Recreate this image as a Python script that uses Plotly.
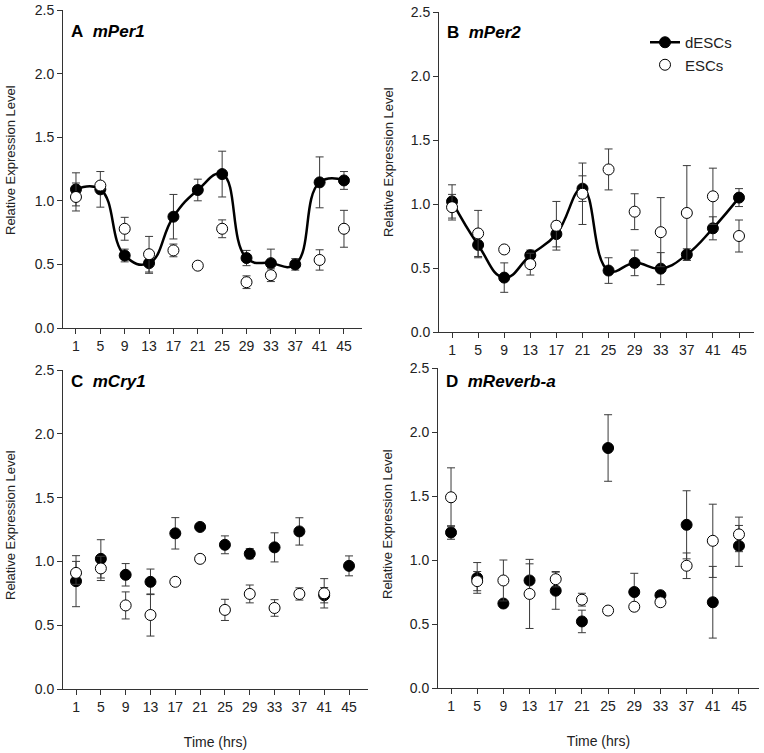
import plotly.graph_objects as go

# ---------------- data ----------------
time_hrs = [1, 5, 9, 13, 17, 21, 25, 29, 33, 37, 41, 45]
y_ticks = [0.0, 0.5, 1.0, 1.5, 2.0, 2.5]

# Panel A: mPer1
per1_desc = [1.09, 1.09, 0.57, 0.51, 0.875, 1.085, 1.21, 0.55, 0.51, 0.50, 1.145, 1.16]
per1_desc_err = [0.13, 0.14, 0.05, 0.08, 0.175, 0.085, 0.18, 0.06, 0.11, 0.045, 0.20, 0.07]
per1_esc = [1.03, 1.12, 0.78, 0.58, 0.61, 0.49, 0.78, 0.36, 0.415, None, 0.535, 0.78]
per1_esc_err = [0.11, 0.03, 0.09, 0.14, 0.05, 0.0, 0.07, 0.05, 0.05, 0.0, 0.08, 0.145]

# Panel B: mPer2
per2_desc = [1.02, 0.68, 0.425, 0.60, 0.765, 1.12, 0.48, 0.54, 0.495, 0.605, 0.81, 1.05]
per2_desc_err = [0.13, 0.10, 0.115, 0.04, 0.10, 0.10, 0.10, 0.10, 0.125, 0.045, 0.09, 0.07]
per2_esc = [0.975, 0.77, 0.645, 0.53, 0.83, 1.08, 1.27, 0.94, 0.78, 0.93, 1.06, 0.75]
per2_esc_err = [0.10, 0.18, 0.0, 0.085, 0.19, 0.24, 0.16, 0.14, 0.27, 0.37, 0.22, 0.125]

# Panel C: mCry1
cry1_desc = [0.845, 1.02, 0.895, 0.84, 1.22, 1.27, 1.13, 1.06, 1.11, 1.235, 0.735, 0.965]
cry1_desc_err = [0.20, 0.15, 0.088, 0.10, 0.123, 0.0, 0.07, 0.04, 0.114, 0.107, 0.06, 0.078]
cry1_esc = [0.91, 0.945, 0.655, 0.58, 0.84, 1.02, 0.62, 0.745, 0.635, 0.745, 0.75, None]
cry1_esc_err = [0.09, 0.095, 0.106, 0.165, 0.0, 0.0, 0.083, 0.07, 0.065, 0.048, 0.115, 0.0]

# Panel D: mReverb-a
rev_desc = [1.215, 0.86, 0.66, 0.84, 0.76, 0.52, 1.875, 0.75, 0.725, 1.275, 0.67, 1.11]
rev_desc_err = [0.053, 0.12, 0.0, 0.13, 0.145, 0.088, 0.26, 0.146, 0.0, 0.266, 0.28, 0.16]
rev_esc = [1.49, 0.835, 0.84, 0.735, 0.85, 0.69, 0.605, 0.635, 0.67, 0.955, 1.15, 1.20]
rev_esc_err = [0.23, 0.075, 0.16, 0.27, 0.06, 0.05, 0.0, 0.0, 0.03, 0.10, 0.286, 0.135]

panel_titles = ["A", "B", "C", "D"]
gene_names = ["mPer1", "mPer2", "mCry1", "mReverb-a"]
y_title = "Relative Expression Level"
x_title = "Time (hrs)"

# ---------------- layout geometry ----------------
W, H = 764, 753


def px(rx):
    return rx / W


def py(ry):
    return 1 - ry / H


FONT = "Arial, Liberation Sans, sans-serif"
TXT = "#222222"
AX = "#333333"
ERR = "#3a3a3a"

panels = [
    dict(desc=per1_desc, desc_err=per1_desc_err, esc=per1_esc, esc_err=per1_esc_err, line=True,
         xd=[px(63), px(362)], yd=[py(328), py(10)], xr=[-1.13, 47.96],
         ytitle=(10, 160), title=(69, 32), xtitle=False),
    dict(desc=per2_desc, desc_err=per2_desc_err, esc=per2_esc, esc_err=per2_esc_err, line=True,
         xd=[px(439), px(754)], yd=[py(332), py(12)], xr=[-1.0, 47.3],
         ytitle=(388, 162), title=(445, 33), xtitle=False),
    dict(desc=cry1_desc, desc_err=cry1_desc_err, esc=cry1_esc, esc_err=cry1_esc_err, line=False,
         xd=[px(63), px(368)], yd=[py(689), py(370)], xr=[-1.1, 48.06],
         ytitle=(10, 525), title=(69, 381), xtitle=True),
    dict(desc=rev_desc, desc_err=rev_desc_err, esc=rev_esc, esc_err=rev_esc_err, line=False,
         xd=[px(438), px(759)], yd=[py(688), py(368)], xr=[-0.99, 48.06],
         ytitle=(387, 524), title=(444, 381), xtitle=True),
]

fig = go.Figure()
annotations = []

for i, p in enumerate(panels):
    n = "" if i == 0 else str(i + 1)
    xa, ya = "x" + n, "y" + n
    # dESCs (filled, optionally with smooth line)
    fig.add_trace(go.Scatter(
        x=time_hrs, y=p["desc"], xaxis=xa, yaxis=ya,
        mode="lines+markers" if p["line"] else "markers",
        line=dict(color="black", width=2.5, shape="spline", smoothing=1.3),
        marker=dict(symbol="circle", size=11, color="black", line=dict(color="black", width=1)),
        error_y=dict(type="data", array=p["desc_err"], visible=True, color=ERR, thickness=1, width=4),
        name="dESCs", showlegend=(i == 0), legendrank=1,
    ))
    # ESCs (open)
    fig.add_trace(go.Scatter(
        x=time_hrs, y=p["esc"], xaxis=xa, yaxis=ya, mode="markers",
        marker=dict(symbol="circle", size=11, color="white", line=dict(color="black", width=1)),
        error_y=dict(type="data", array=p["esc_err"], visible=True, color=ERR, thickness=1, width=4),
        name="ESCs", showlegend=(i == 0), legendrank=2,
    ))

    axis_common = dict(showline=True, linecolor=AX, linewidth=1, ticks="outside", ticklen=5,
                       tickcolor=AX, tickwidth=1, showgrid=False, zeroline=False, automargin=False,
                       tickfont=dict(family=FONT, size=14, color=TXT))
    xaxis = dict(domain=p["xd"], range=p["xr"], anchor=ya, tickmode="array", tickvals=time_hrs,
                 ticktext=[str(t) for t in time_hrs], **axis_common)
    if p["xtitle"]:
        xaxis["title"] = dict(text=x_title, font=dict(family=FONT, size=14, color=TXT), standoff=23)
    yaxis = dict(domain=p["yd"], range=[0, 2.5], anchor=xa, tickmode="array", tickvals=y_ticks,
                 ticktext=["%.1f" % v for v in y_ticks], **axis_common)
    fig.update_layout(**{"xaxis" + n: xaxis, "yaxis" + n: yaxis})

    tx, ty = p["ytitle"]
    annotations.append(dict(text=y_title, x=px(tx), y=py(ty), xref="paper", yref="paper",
                            textangle=-90, showarrow=False, xanchor="center", yanchor="middle",
                            font=dict(family=FONT, size=13, color=TXT)))
    hx, hy = p["title"]
    annotations.append(dict(text="<b>%s&nbsp;&nbsp;<i>%s</i></b>" % (panel_titles[i], gene_names[i]),
                            x=px(hx), y=py(hy), xref="paper", yref="paper", showarrow=False,
                            xanchor="left", yanchor="middle",
                            font=dict(family=FONT, size=17, color="black")))

fig.update_layout(
    template="none",
    width=W, height=H, margin=dict(l=0, r=0, t=0, b=0, pad=0),
    paper_bgcolor="white", plot_bgcolor="white",
    font=dict(family=FONT, color=TXT),
    annotations=annotations,
    showlegend=True,
    legend=dict(x=px(645), y=py(26), xanchor="left", yanchor="top",
                bgcolor="rgba(0,0,0,0)", font=dict(family=FONT, size=15, color=TXT),
                tracegroupgap=0, itemsizing="trace"),
)

# remove the browser's default 8px page margin so the figure sits at the window's corner
fig.write_html("out.html", config={"displayModeBar": False},
               post_script="document.body.style.margin='0';document.body.style.overflow='hidden';")
